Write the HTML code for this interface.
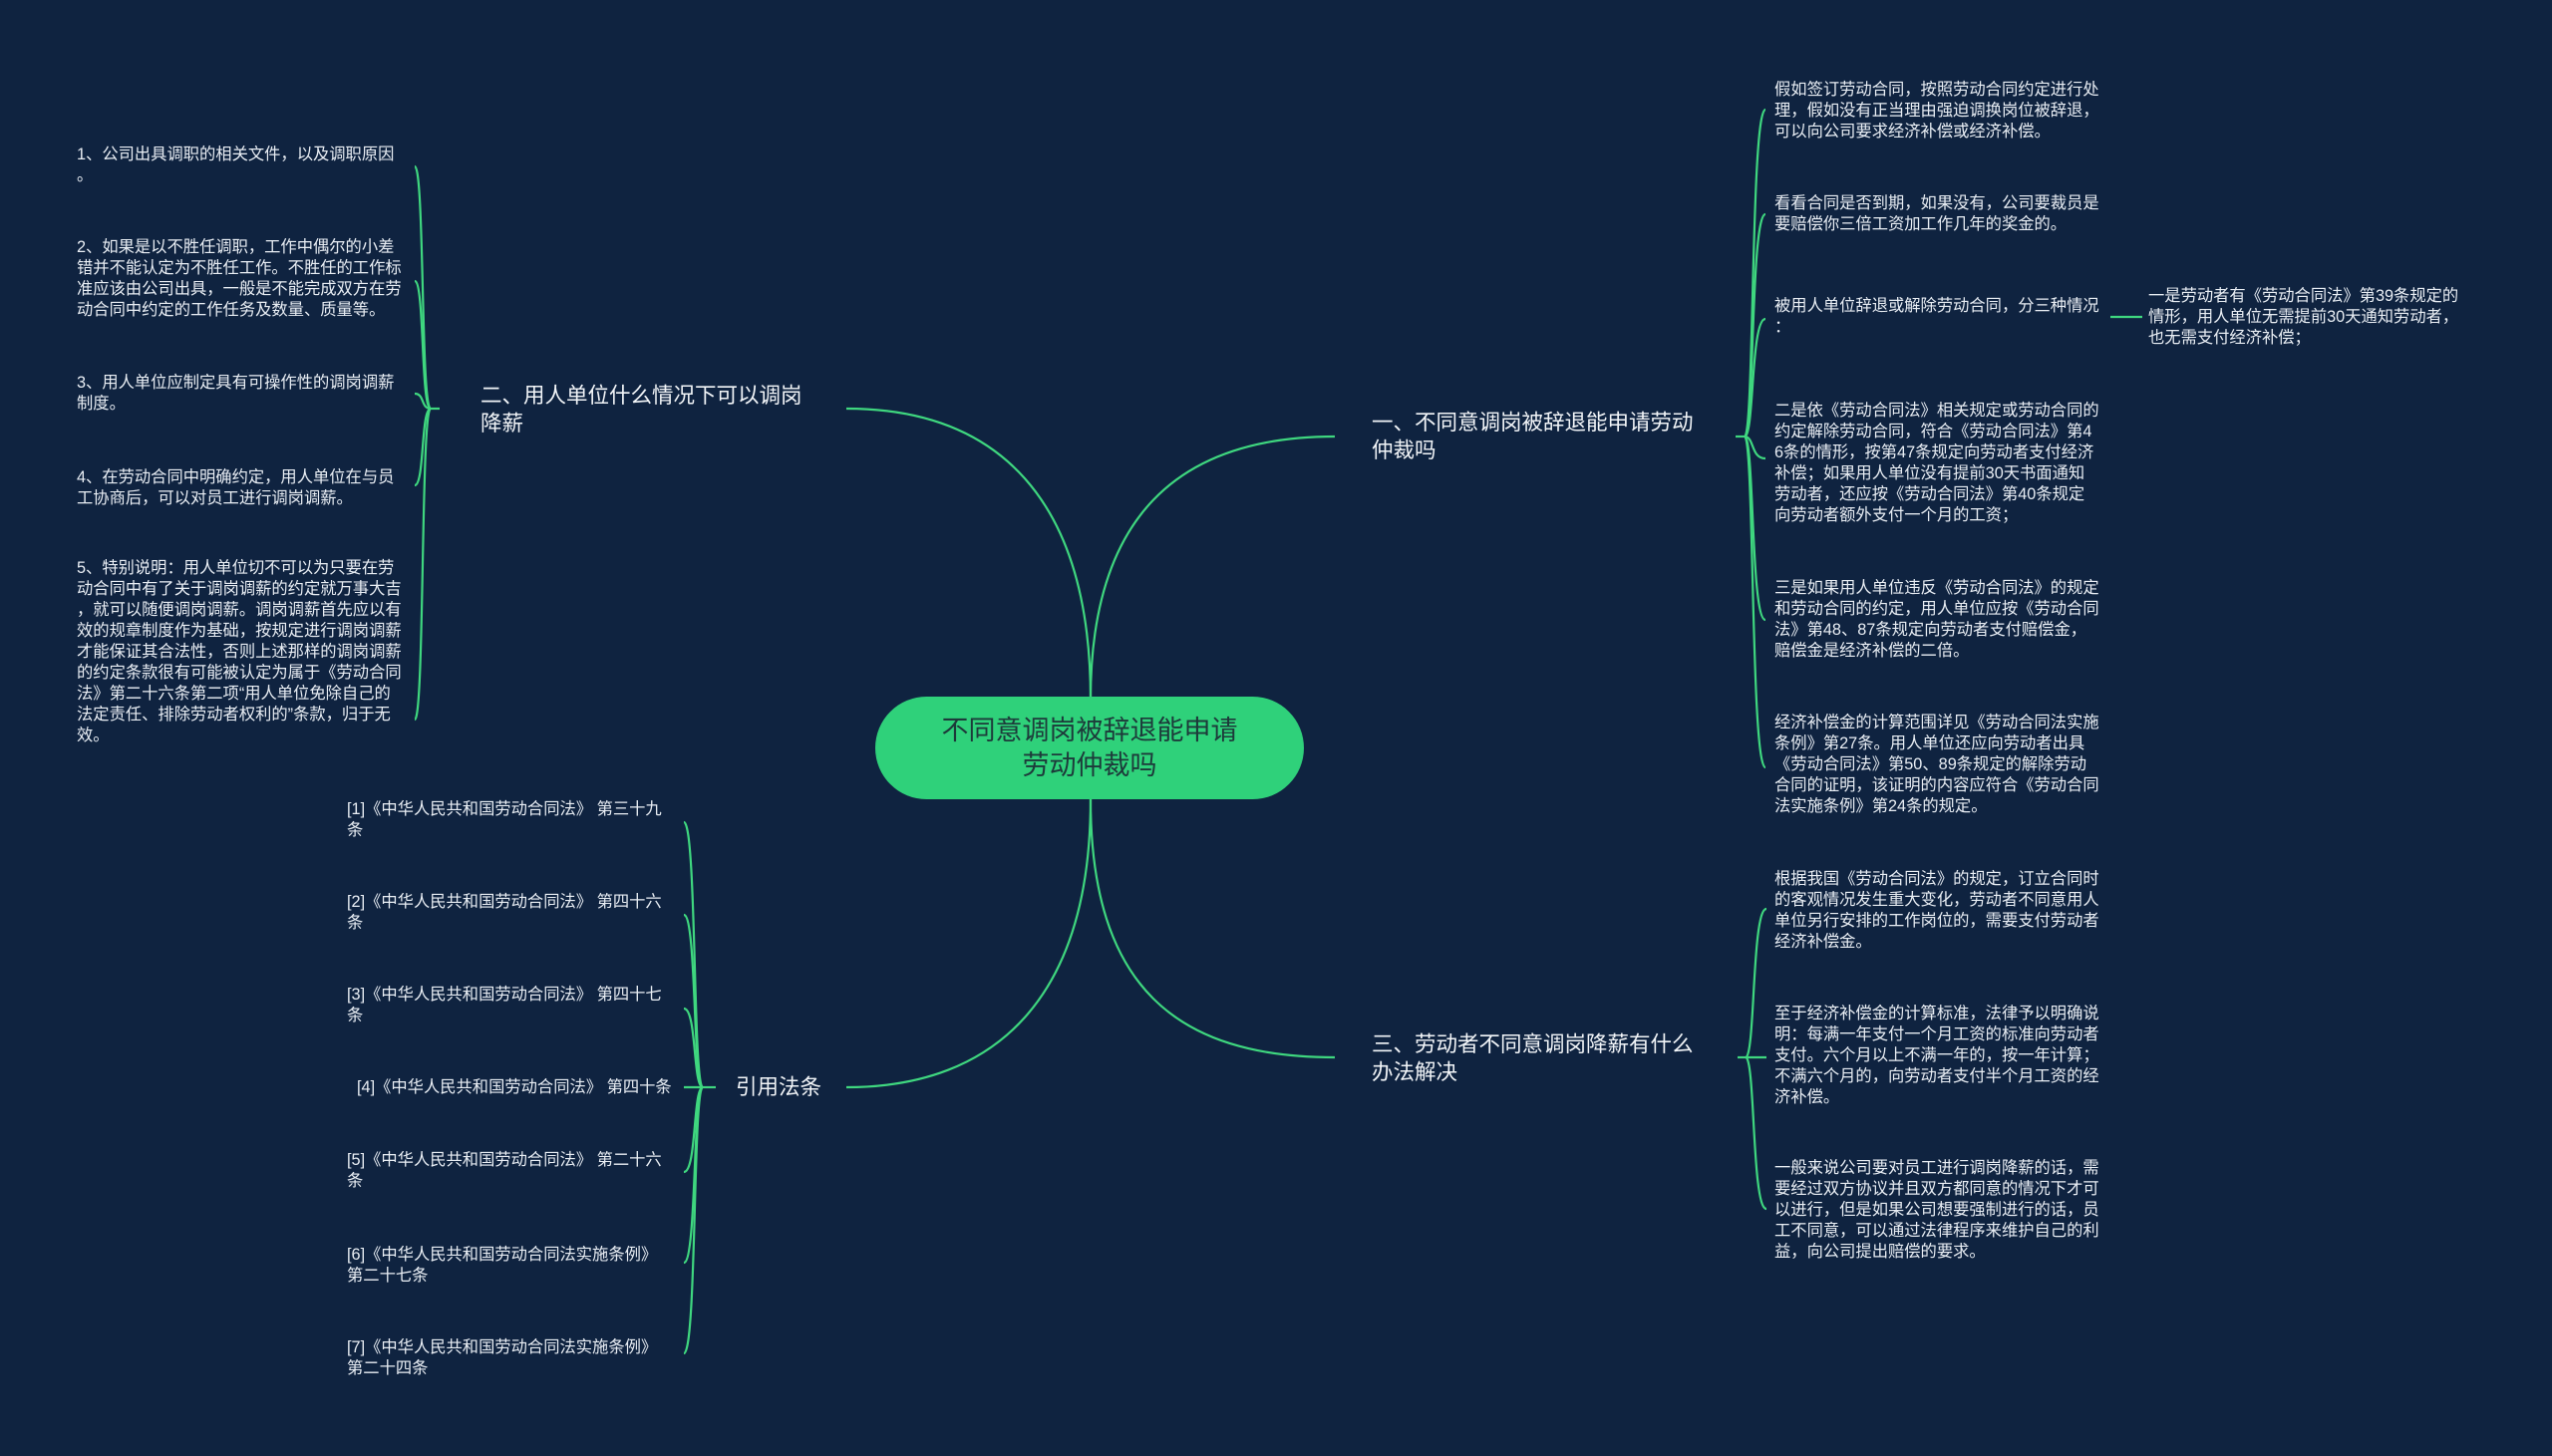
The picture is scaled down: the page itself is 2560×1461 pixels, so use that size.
<!DOCTYPE html>
<html><head><meta charset="utf-8"><style>
html,body{margin:0;padding:0;}
body{width:2560px;height:1461px;background:#0f2340;position:relative;overflow:hidden;font-family:"Liberation Sans","Noto Sans CJK SC",sans-serif;}
.t{position:absolute;color:#e9eef4;font-size:16.3px;line-height:21px;white-space:nowrap;}
.b{position:absolute;color:#f2f5f8;font-size:21.5px;line-height:28px;white-space:nowrap;}
.c{position:absolute;left:878px;top:699px;width:430px;height:103px;border-radius:52px;background:#2fd17a;color:#1d3a3a;font-size:27px;line-height:35px;text-align:center;display:flex;align-items:center;justify-content:center;}
svg{position:absolute;left:0;top:0;}
</style></head><body>
<svg width="2560" height="1461" fill="none" stroke="#3fd77f" stroke-width="2.2">
<path d="M1094,702 C1094,520 1180,438 1339,438"/>
<path d="M1094,702 C1094,500 1000,410 849,410"/>
<path d="M1094,802 C1094,990 1180,1061 1339,1061"/>
<path d="M1094,802 C1094,1000 1000,1091 849,1091"/>
<g>
<path d="M1741,438 H1750"/>
<path d="M1750,438 C1760,438 1756,110 1771,110"/>
<path d="M1750,438 C1760,438 1756,215 1771,215"/>
<path d="M1750,438 C1760,438 1756,320 1771,320"/>
<path d="M1750,438 C1760,438 1756,460 1771,460"/>
<path d="M1750,438 C1760,438 1756,622 1771,622"/>
<path d="M1750,438 C1760,438 1756,770 1771,770"/>
<path d="M2117,318 H2149"/>
</g>
<g>
<path d="M1743,1061 H1751"/>
<path d="M1751,1061 C1761,1061 1757,912 1772,912"/>
<path d="M1751,1061 H1772"/>
<path d="M1751,1061 C1761,1061 1757,1213 1772,1213"/>
</g>
<g>
<path d="M441,410 H432"/>
<path d="M432,410 C422,410 426,167 416,167"/>
<path d="M432,410 C422,410 426,282 416,282"/>
<path d="M432,410 C422,410 426,395 416,395"/>
<path d="M432,410 C422,410 426,487 416,487"/>
<path d="M432,410 C422,410 426,722 416,722"/>
</g>
<g>
<path d="M718,1091 H705"/>
<path d="M705,1091 C695,1091 699,825 686,825"/>
<path d="M705,1091 C695,1091 699,918 686,918"/>
<path d="M705,1091 C695,1091 699,1012 686,1012"/>
<path d="M705,1091 H686"/>
<path d="M705,1091 C695,1091 699,1176 686,1176"/>
<path d="M705,1091 C695,1091 699,1267 686,1267"/>
<path d="M705,1091 C695,1091 699,1358 686,1358"/>
</g>
</svg>

<div class="c">不同意调岗被辞退能申请<br>劳动仲裁吗</div>

<div class="b" style="left:1376px;top:410px;">一、不同意调岗被辞退能申请劳动<br>仲裁吗</div>
<div class="b" style="left:482px;top:383px;">二、用人单位什么情况下可以调岗<br>降薪</div>
<div class="b" style="left:1376px;top:1034px;">三、劳动者不同意调岗降薪有什么<br>办法解决</div>
<div class="b" style="left:738px;top:1077px;">引用法条</div>

<div class="t" style="left:77px;top:145px;">1、公司出具调职的相关文件，以及调职原因<br>。</div>
<div class="t" style="left:77px;top:238px;">2、如果是以不胜任调职，工作中偶尔的小差<br>错并不能认定为不胜任工作。不胜任的工作标<br>准应该由公司出具，一般是不能完成双方在劳<br>动合同中约定的工作任务及数量、质量等。</div>
<div class="t" style="left:77px;top:374px;">3、用人单位应制定具有可操作性的调岗调薪<br>制度。</div>
<div class="t" style="left:77px;top:469px;">4、在劳动合同中明确约定，用人单位在与员<br>工协商后，可以对员工进行调岗调薪。</div>
<div class="t" style="left:77px;top:560px;">5、特别说明：用人单位切不可以为只要在劳<br>动合同中有了关于调岗调薪的约定就万事大吉<br>，就可以随便调岗调薪。调岗调薪首先应以有<br>效的规章制度作为基础，按规定进行调岗调薪<br>才能保证其合法性，否则上述那样的调岗调薪<br>的约定条款很有可能被认定为属于《劳动合同<br>法》第二十六条第二项“用人单位免除自己的<br>法定责任、排除劳动者权利的”条款，归于无<br>效。</div>

<div class="t" style="left:1780px;top:80px;">假如签订劳动合同，按照劳动合同约定进行处<br>理，假如没有正当理由强迫调换岗位被辞退，<br>可以向公司要求经济补偿或经济补偿。</div>
<div class="t" style="left:1780px;top:194px;">看看合同是否到期，如果没有，公司要裁员是<br>要赔偿你三倍工资加工作几年的奖金的。</div>
<div class="t" style="left:1780px;top:297px;">被用人单位辞退或解除劳动合同，分三种情况<br>：</div>
<div class="t" style="left:1780px;top:402px;">二是依《劳动合同法》相关规定或劳动合同的<br>约定解除劳动合同，符合《劳动合同法》第4<br>6条的情形，按第47条规定向劳动者支付经济<br>补偿；如果用人单位没有提前30天书面通知<br>劳动者，还应按《劳动合同法》第40条规定<br>向劳动者额外支付一个月的工资；</div>
<div class="t" style="left:1780px;top:580px;">三是如果用人单位违反《劳动合同法》的规定<br>和劳动合同的约定，用人单位应按《劳动合同<br>法》第48、87条规定向劳动者支付赔偿金，<br>赔偿金是经济补偿的二倍。</div>
<div class="t" style="left:1780px;top:715px;">经济补偿金的计算范围详见《劳动合同法实施<br>条例》第27条。用人单位还应向劳动者出具<br>《劳动合同法》第50、89条规定的解除劳动<br>合同的证明，该证明的内容应符合《劳动合同<br>法实施条例》第24条的规定。</div>
<div class="t" style="left:2155px;top:287px;">一是劳动者有《劳动合同法》第39条规定的<br>情形，用人单位无需提前30天通知劳动者，<br>也无需支付经济补偿；</div>

<div class="t" style="left:1780px;top:872px;">根据我国《劳动合同法》的规定，订立合同时<br>的客观情况发生重大变化，劳动者不同意用人<br>单位另行安排的工作岗位的，需要支付劳动者<br>经济补偿金。</div>
<div class="t" style="left:1780px;top:1007px;">至于经济补偿金的计算标准，法律予以明确说<br>明：每满一年支付一个月工资的标准向劳动者<br>支付。六个月以上不满一年的，按一年计算；<br>不满六个月的，向劳动者支付半个月工资的经<br>济补偿。</div>
<div class="t" style="left:1780px;top:1162px;">一般来说公司要对员工进行调岗降薪的话，需<br>要经过双方协议并且双方都同意的情况下才可<br>以进行，但是如果公司想要强制进行的话，员<br>工不同意，可以通过法律程序来维护自己的利<br>益，向公司提出赔偿的要求。</div>

<div class="t" style="left:348px;top:802px;">[1]《中华人民共和国劳动合同法》 第三十九<br>条</div>
<div class="t" style="left:348px;top:895px;">[2]《中华人民共和国劳动合同法》 第四十六<br>条</div>
<div class="t" style="left:348px;top:988px;">[3]《中华人民共和国劳动合同法》 第四十七<br>条</div>
<div class="t" style="left:358px;top:1081px;">[4]《中华人民共和国劳动合同法》 第四十条</div>
<div class="t" style="left:348px;top:1154px;">[5]《中华人民共和国劳动合同法》 第二十六<br>条</div>
<div class="t" style="left:348px;top:1249px;">[6]《中华人民共和国劳动合同法实施条例》<br>第二十七条</div>
<div class="t" style="left:348px;top:1342px;">[7]《中华人民共和国劳动合同法实施条例》<br>第二十四条</div>
</body></html>
